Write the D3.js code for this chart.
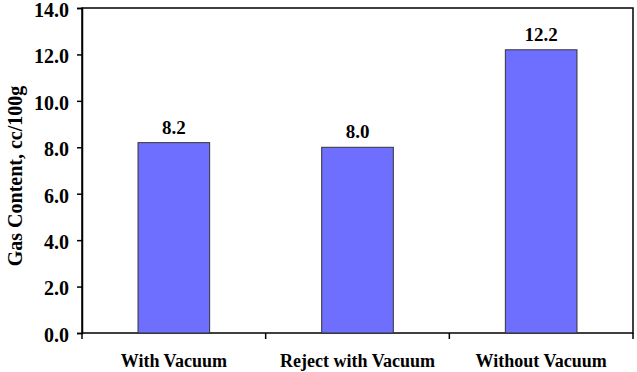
<!DOCTYPE html>
<html>
<head>
<meta charset="utf-8">
<script src="https://cdn.jsdelivr.net/npm/d3@7"></script>
<style>
  body { margin: 0; background: white; }
  svg text { font-family: "Liberation Serif", "Times New Roman", serif; font-weight: bold; }
</style>
</head>
<body>
<div id="chart"></div>
<script>
const categories = ["With Vacuum", "Reject with Vacuum", "Without Vacuum"];
const values = [8.2, 8.0, 12.2];
const yTicks = [0, 2, 4, 6, 8, 10, 12, 14];

const width = 637, height = 372;
const margin = { top: 8, right: 4, bottom: 39, left: 82 };
const serif = "'Liberation Serif', 'Times New Roman', serif";

const svg = d3.select("#chart")
    .append("svg")
    .attr("width", width)
    .attr("height", height)
    .attr("font-family", serif)
    .attr("font-weight", "bold");

const x = d3.scaleBand()
    .domain(categories)
    .range([margin.left, width - margin.right]);

const y = d3.scaleLinear()
    .domain([0, 14])
    .range([height - margin.bottom, margin.top]);

// Plot frame
svg.append("rect")
    .attr("x", margin.left)
    .attr("y", margin.top)
    .attr("width", width - margin.left - margin.right)
    .attr("height", height - margin.top - margin.bottom)
    .attr("fill", "none")
    .attr("stroke", "black")
    .attr("stroke-width", 1.5);

// Bars
const barW = x.bandwidth() * 0.39;
svg.selectAll("rect.bar")
    .data(values)
    .enter()
    .append("rect")
    .attr("class", "bar")
    .attr("x", (d, i) => x(categories[i]) + (x.bandwidth() - barW) / 2)
    .attr("y", d => y(d))
    .attr("width", barW)
    .attr("height", d => y(0) - y(d))
    .attr("fill", "#6F6FFF")
    .attr("stroke", "#333")
    .attr("stroke-width", 1);

// Value labels
svg.selectAll("text.val")
    .data(values)
    .enter()
    .append("text")
    .attr("x", (d, i) => x(categories[i]) + x.bandwidth() / 2)
    .attr("y", d => y(d) - 9)
    .attr("text-anchor", "middle")
    .attr("font-weight", "bold")
    .attr("font-size", "19px")
    .text(d => d.toFixed(1));

// Y Axis
const yAxis = svg.append("g")
    .attr("transform", `translate(${margin.left}, 0)`)
    .call(d3.axisLeft(y).tickValues(yTicks).tickFormat(d3.format(".1f")).tickSize(5).tickPadding(8));
yAxis.attr("font-family", serif);
yAxis.selectAll("text")
    .attr("font-size", "20px")
    .attr("font-weight", "bold")
    .attr("dy", "0.42em")
    .attr("fill", "black");
yAxis.select(".domain").attr("stroke-width", 1.5);
yAxis.selectAll(".tick line").attr("stroke-width", 1.5);

// X Axis ticks at category boundaries
const bounds = categories.map(c => x(c)).concat([x.range()[1]]);
svg.selectAll("line.xtick")
    .data(bounds)
    .enter()
    .append("line")
    .attr("x1", d => d)
    .attr("x2", d => d)
    .attr("y1", y(0))
    .attr("y2", y(0) + 6)
    .attr("stroke", "black")
    .attr("stroke-width", 1.5);

// Category labels
svg.selectAll("text.cat")
    .data(categories)
    .enter()
    .append("text")
    .attr("x", d => x(d) + x.bandwidth() / 2)
    .attr("y", height - 5)
    .attr("text-anchor", "middle")
    .attr("font-weight", "bold")
    .attr("font-size", "18px")
    .text(d => d);

// Y Axis Title
svg.append("text")
    .attr("transform", "rotate(-90)")
    .attr("x", -176)
    .attr("y", 22)
    .attr("text-anchor", "middle")
    .attr("font-weight", "bold")
    .attr("font-size", "20px")
    .text("Gas Content, cc/100g");
</script>
</body>
</html>
